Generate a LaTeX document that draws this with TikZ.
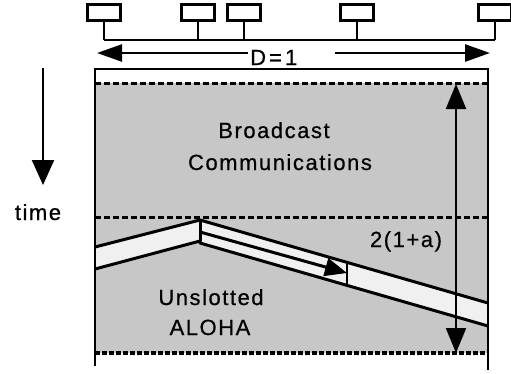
\documentclass[tikz,border=0pt]{standalone}
\usepackage{fontspec}
\setmainfont{Liberation Sans}
\newfontfamily\lblfont[LetterSpace=7,FakeBold=0.6]{Liberation Sans}
\usetikzlibrary{arrows.meta}
\tikzset{
  station/.style={draw, line width=2.8pt, minimum width=33pt, minimum height=16pt, inner sep=0pt},
  wire/.style={line width=2.8pt},
  frameline/.style={line width=2.6pt},
  dashline/.style={line width=3pt, dash pattern=on 6pt off 3pt},
  bandline/.style={line width=3pt},
  lbl/.style={font=\fontsize{22}{24}\selectfont\lblfont, inner sep=0pt, anchor=base},
}
\colorlet{dotgray}{black!22}
\colorlet{bandgray}{black!6}
\begin{document}
\begin{tikzpicture}[x=1pt,y=-1pt]
\useasboundingbox (0,0) rectangle (511,373);
% stations and bus
\node[station] (s1) at (104,12.5) {};
\node[station] (s2) at (198,12.5) {};
\node[station] (s3) at (244,12.5) {};
\node[station] (s4) at (357,12.5) {};
\node[station] (s5) at (495,12.5) {};
\foreach \s in {s1,s2,s3,s4,s5} \coordinate (b\s) at (\s.south |- 0,40);
\foreach \s in {s1,s2,s3,s4,s5} \draw[wire] (\s.south) -- (b\s);
\draw[wire] (bs1) -- (bs5);
% D=1
\node[lbl, font=\fontsize{22}{24}\selectfont\lblfont\addfontfeature{LetterSpace=14}, anchor=base west] (D) at (250,65) {D=1};
\coordinate (dl) at (97,53);
\coordinate (dr) at (490,53);
\coordinate (dls) at (248,53);
\coordinate (drs) at (335,53);
\draw[line width=2.6pt, -{Triangle[length=25pt,width=17pt]}] (dls) -- (dl);
\draw[line width=2.6pt, -{Triangle[length=25pt,width=17pt]}] (drs) -- (dr);
% shaded area
\fill[dotgray] (95,83) rectangle (488,353);
% bands
\fill[bandgray] (95,247) -- (200,220) -- (200,241) -- (95,269) -- cycle;
\fill[bandgray] (200,220) -- (488,303) -- (488,326) -- (200,243) -- cycle;
\coordinate (lt) at (95,247);
\coordinate (lb) at (95,269);
\coordinate (pk) at (200,220);
\coordinate (pb) at (200,241);
\coordinate (rt) at (488,303);
\coordinate (rb) at (488,326);
\coordinate (mb) at (200,243);
\coordinate (mm) at (200,232);
\coordinate (bt) at (347,262);
\coordinate (bb) at (347,285);
\coordinate (tip) at (347,273);
\draw[bandline, line join=round] (lt) -- (pk) -- (rt);
\draw[bandline, line join=round] (lb) -- (pb) -- (mb) -- (rb);
\draw[bandline] (pk) -- (pb);
\draw[line width=2pt] (bt) -- (bb);
\draw[bandline, -{Triangle[length=22pt,width=18pt]}] (mm) -- (tip);
% dashed lines
\draw[dashline] (95,83) -- (488,83);
\draw[dashline] (95,217) -- (488,217);
\draw[dashline, line width=3.4pt, dash pattern=on 5pt off 2pt] (95,353) -- (488,353);
% frame
\draw[frameline] (95,366) -- (95,69) -- (488,69) -- (488,370);
% 2(1+a) arrow
\coordinate (at) at (456,84);
\coordinate (ab) at (456,353);
\draw[line width=2.2pt, {Triangle[length=25pt,width=20pt]}-{Triangle[length=25pt,width=20pt]}] (at) -- (ab);
% time arrow
\coordinate (ts) at (43,68);
\coordinate (te) at (43,185);
\draw[line width=2.2pt, -{Triangle[length=25pt,width=22pt]}] (ts) -- (te);
% labels
\node[lbl] (time) at (38,220) {time};
\node[lbl] (bc1) at (274,138) {Broadcast};
\node[lbl] (bc2) at (280,170) {Communications};
\node[lbl] (u1) at (211,305) {Unslotted};
\node[lbl] (u2) at (210,335) {ALOHA};
\node[lbl] (aa) at (406,247) {2(1+a)};
\end{tikzpicture}
\end{document}
